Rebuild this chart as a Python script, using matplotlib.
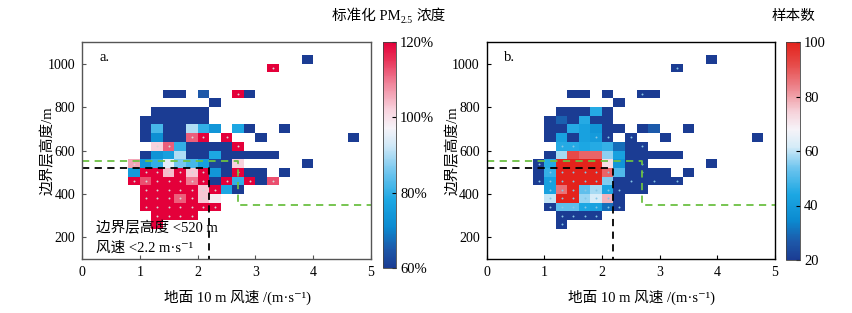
import numpy as np
import matplotlib
matplotlib.use("Agg")
import matplotlib.pyplot as plt
from matplotlib.colors import LinearSegmentedColormap

plt.rcParams['font.family'] = ['Liberation Serif', 'DejaVu Serif', 'Noto Sans CJK SC']
plt.rcParams['axes.unicode_minus'] = True

_ = np.nan

# bins: wind speed 0.2 m/s, boundary layer height 40 m
ws_edges = np.round(np.arange(0.8, 4.81, 0.2), 1)
blh_edges = np.arange(240, 1041, 40)

# normalised PM2.5 (%), rows from 240 m upward, columns from 0.8 m/s
pm_norm = np.array([
    [_, _, 130, _, _, _, _, _, _, _, _, _, _, _, _, _, _, _, _, _],
    [_, _, 130, 130, 130, 130, _, _, _, _, _, _, _, _, _, _, _, _, _, _],
    [_, 130, 130, 130, 130, 130, 130, 130, _, _, _, _, _, _, _, _, _, _, _, _],
    [_, 130, 130, 130, 112, 130, 103, 98, _, _, _, _, _, _, _, _, _, _, _, _],
    [_, 130, 130, 130, 130, 130, 103, 130, 78, 55, _, _, _, _, _, _, _, _, _, _],
    [130, 113, 130, 130, 130, 110, 130, 55, 130, 80, 130, 55, 113, _, _, _, _, _, _, _],
    [75, 130, 130, 104, 130, 103, 130, 74, 55, 130, 55, 55, _, 55, _, _, _, _, _, _],
    [106, 74, 80, 95, 86, 82, 76, 62, 55, 102, _, _, _, _, _, 55, _, _, _, _],
    [_, 55, 73, 76, 90, 55, 55, 78, 55, 55, 55, 55, 55, _, _, _, _, _, _, _],
    [_, _, 102, 112, 80, 55, 55, 55, 55, 130, _, _, _, _, _, _, _, _, _, _],
    [_, 55, 72, 55, 55, 112, 130, _, 130, _, _, 55, _, _, _, _, _, _, _, 55],
    [_, 55, 82, 55, 55, 90, 80, 74, _, 78, 55, _, _, 55, _, _, _, _, _, _],
    [_, 55, 55, 55, 55, 55, 55, _, _, _, _, _, _, _, _, _, _, _, _, _],
    [_, _, 55, 55, 55, 55, 55, _, _, _, _, _, _, _, _, _, _, _, _, _],
    [_, _, _, _, _, _, _, 55, _, _, _, _, _, _, _, _, _, _, _, _],
    [_, _, _, 55, 55, _, 65, _, _, 130, 55, _, _, _, _, _, _, _, _, _],
    [_, _, _, _, _, _, _, _, _, _, _, _, _, _, _, _, _, _, _, _],
    [_, _, _, _, _, _, _, _, _, _, _, _, _, _, _, _, _, _, _, _],
    [_, _, _, _, _, _, _, _, _, _, _, _, 130, _, _, _, _, _, _, _],
    [_, _, _, _, _, _, _, _, _, _, _, _, _, _, _, 55, _, _, _, _],
])

# number of samples per bin
n_samples = np.array([
    [_, _, 15, _, _, _, _, _, _, _, _, _, _, _, _, _, _, _, _, _],
    [_, _, 15, 15, 15, 15, _, _, _, _, _, _, _, _, _, _, _, _, _, _],
    [_, 15, 52, 52, 44, 42, 30, 15, _, _, _, _, _, _, _, _, _, _, _, _],
    [_, 60, 100, 100, 57, 62, 78, 15, _, _, _, _, _, _, _, _, _, _, _, _],
    [_, 42, 86, 100, 52, 58, 43, 15, 15, 15, _, _, _, _, _, _, _, _, _, _],
    [15, 42, 100, 100, 100, 100, 55, 15, 15, 15, 15, 15, 15, _, _, _, _, _, _, _],
    [15, 47, 100, 100, 100, 100, 88, 50, 15, 15, 15, 15, _, 15, _, _, _, _, _, _],
    [15, 45, 100, 100, 100, 100, 72, 38, 15, 15, _, _, _, _, _, 15, _, _, _, _],
    [_, 15, 58, 92, 88, 88, 56, 42, 15, 15, 15, 15, 15, _, _, _, _, _, _, _],
    [_, _, 45, 45, 44, 45, 47, 30, 15, 15, _, _, _, _, _, _, _, _, _, _],
    [_, 15, 42, 15, 42, 40, 15, _, 15, _, _, 15, _, _, _, _, _, _, _, 15],
    [_, 15, 15, 45, 42, 38, 15, 15, _, 15, 27, _, _, 15, _, _, _, _, _, _],
    [_, 15, 28, 15, 45, 15, 15, _, _, _, _, _, _, _, _, _, _, _, _, _],
    [_, _, 15, 15, 15, 45, 15, _, _, _, _, _, _, _, _, _, _, _, _, _],
    [_, _, _, _, _, _, _, 15, _, _, _, _, _, _, _, _, _, _, _, _],
    [_, _, _, 15, 15, _, 15, _, _, 15, 15, _, _, _, _, _, _, _, _, _],
    [_, _, _, _, _, _, _, _, _, _, _, _, _, _, _, _, _, _, _, _],
    [_, _, _, _, _, _, _, _, _, _, _, _, _, _, _, _, _, _, _, _],
    [_, _, _, _, _, _, _, _, _, _, _, _, 15, _, _, _, _, _, _, _],
    [_, _, _, _, _, _, _, _, _, _, _, _, _, _, _, 15, _, _, _, _],
])

# thresholds
blh_thr, ws_thr = 520, 2.2
green_x = [0, 2.7, 2.7, 5]
green_y = [550, 550, 350, 350]

pm_ticks = [60, 80, 100, 120]
n_ticks = [20, 40, 60, 80, 100]

cols_a = [(0.00, '#1b3c93'), (0.08, '#1d57a8'), (0.18, '#0b8ad0'), (0.30, '#1ca7e3'),
          (0.42, '#6cc4ee'), (0.54, '#cfe8f7'), (0.62, '#f6f3f8'), (0.70, '#f8d3de'),
          (0.82, '#f08399'), (0.92, '#e83459'), (1.00, '#e4003a')]
cols_b = [(0.00, '#1b3c93'), (0.08, '#1d57a8'), (0.18, '#0b8ad0'), (0.30, '#1ca7e3'),
          (0.42, '#6cc4ee'), (0.52, '#d6ecf8'), (0.60, '#f6f3f8'), (0.68, '#f6d2da'),
          (0.80, '#ec8088'), (0.90, '#e64a48'), (1.00, '#e3231c')]
cmap_a = LinearSegmentedColormap.from_list('pm', cols_a)
cmap_b = LinearSegmentedColormap.from_list('ns', cols_b)

W, H = 852, 313
fig = plt.figure(figsize=(W / 100, H / 100), dpi=100)
ax_a = fig.add_axes([82 / W, 1 - 259 / H, 289 / W, 217 / H])
ax_b = fig.add_axes([486.6 / W, 1 - 259 / H, 288.4 / W, 217 / H])
cax_a = fig.add_axes([383 / W, 1 - 268 / H, 13 / W, 226 / H])
cax_b = fig.add_axes([786 / W, 1 - 260 / H, 14 / W, 218 / H])

# significance dots: bins with high normalised PM2.5
xc = (ws_edges[:-1] + ws_edges[1:]) / 2
yc = (blh_edges[:-1] + blh_edges[1:]) / 2
XC, YC = np.meshgrid(xc, yc)
sig = np.nan_to_num(pm_norm) >= 100

panels = [(ax_a, pm_norm, cmap_a, 60, 120, 'a.', '#d8d8d8', '#555555'),
          (ax_b, n_samples, cmap_b, 20, 100, 'b.', '#86c6e6', 'black')]
meshes = []
for ax, M, cm, lo, hi, tag, dotc, framec in panels:
    m = ax.pcolormesh(ws_edges, blh_edges, np.ma.masked_invalid(M), cmap=cm,
                      vmin=lo, vmax=hi, edgecolors='none')
    meshes.append(m)
    ax.plot(XC[sig], YC[sig], 'o', ms=1.4, color=dotc, mec='none')
    ax.plot(green_x, green_y, '--', color='#6cc043', lw=1.3, dashes=(4, 3))
    ax.plot([0, ws_thr, ws_thr], [blh_thr, blh_thr, 100], '--', color='black',
            lw=1.3, dashes=(4, 3))
    ax.set_xlim(0, 5)
    ax.set_ylim(100, 1100)
    ax.set_xticks([0, 1, 2, 3, 4, 5])
    ax.set_yticks([200, 400, 600, 800, 1000])
    ax.tick_params(direction='in', length=3, labelsize=10, pad=5, color=framec)
    for s in ax.spines.values():
        s.set_color(framec)
        s.set_linewidth(1.0)
    ax.text(0.3, 1027, tag, fontsize=10.5, va='center', ha='left')
    ax.set_ylabel('边界层高度/m', fontsize=10.5)
    ax.yaxis.set_label_coords(-0.092, 0.5)

fig.text(238 / W, 1 - 297 / H, '地面 10 m 风速 /(m·s⁻¹)', ha='center',
         va='center', fontsize=10.5)
fig.text(642 / W, 1 - 297 / H, '地面 10 m 风速 /(m·s⁻¹)', ha='center',
         va='center', fontsize=10.5)

ax_a.text(0.24, 241, '边界层高度 <520 m', fontsize=10.5, va='center', ha='left')
ax_a.text(0.24, 150, '风速 <2.2 m·s⁻¹', fontsize=10.5, va='center', ha='left')

cb_a = fig.colorbar(meshes[0], cax=cax_a, ticks=pm_ticks)
cb_a.ax.set_yticklabels([f'{t}%' for t in pm_ticks])
cb_b = fig.colorbar(meshes[1], cax=cax_b, ticks=n_ticks)
for cb in (cb_a, cb_b):
    cb.outline.set_linewidth(0.6)
    cb.outline.set_edgecolor('#444444')
    cb.ax.tick_params(direction='in', length=3, labelsize=10.5, pad=3)


def rich_text(xc_px, y_px, pieces):
    # pieces: (text, fontsize, baseline shift px, gap before px)
    r = fig.canvas.get_renderer()
    objs, widths = [], []
    for s, fs, dy, gap in pieces:
        t = fig.text(0, 1 - (y_px - dy) / H, s, fontsize=fs, va='baseline', ha='left')
        objs.append(t)
        widths.append(t.get_window_extent(r).width + gap)
    x = xc_px - sum(widths) / 2
    for t, w, p in zip(objs, widths, pieces):
        t.set_x((x + p[3]) / W)
        x += w


rich_text(389, 20, [('标准化 PM', 10.5, 0, 0), ('2.5', 7, -3, 0), ('浓度', 10.5, 0, 4)])
rich_text(793, 20, [('样本数', 10.5, 0, 0)])

fig.savefig('out.png', dpi=100)
